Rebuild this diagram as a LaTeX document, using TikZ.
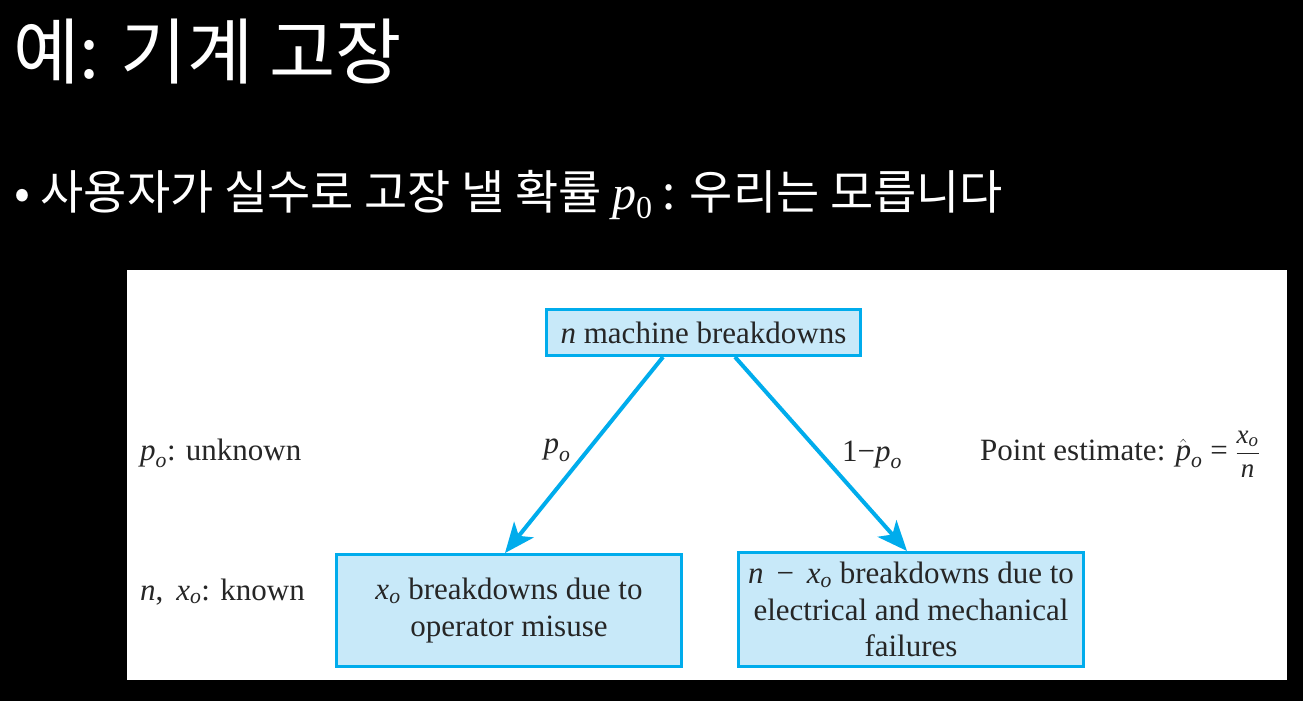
\documentclass[tikz,border=0pt]{standalone}
\usepackage{amsmath}
\usepackage{fontspec}
\setmainfont{Liberation Serif}
\newfontfamily\cjk{Noto Sans CJK KR}
\usetikzlibrary{arrows.meta}

\definecolor{flowcyan}{RGB}{0,172,236}
\definecolor{boxfill}{RGB}{200,233,249}

% italic variables with subscript o
\newcommand{\po}{$\textit{p}_{\textit{o}}$}
\newcommand{\xo}{$\textit{x}_{\textit{o}}$}

\tikzset{
  stagebox/.style={draw=flowcyan, line width=3pt, fill=boxfill, inner sep=0pt,
    align=center, font=\fontsize{31}{36.5}\selectfont, text=black!85},
  branch/.style={draw=flowcyan, line width=4pt,
    -{Stealth[length=30pt,width=25pt,inset=8pt]}},
  note/.style={font=\fontsize{31}{36}\selectfont, text=black!85, inner sep=0pt},
  slidetext/.style={text=white, inner sep=0pt},
}

\begin{document}
\begin{tikzpicture}[x=1pt,y=-1pt]
  % slide background and figure panel
  \fill[black] (0,0) rectangle (1303,701);
  \useasboundingbox (0,0) rectangle (1303,701);
  \fill[white] (127,270) rectangle (1287,680);

  % slide heading and bullet
  \node[slidetext, anchor=base west, font=\cjk\fontsize{72}{80}\selectfont] (title) at (13,78) {예: 기계 고장};
  \node[slidetext, anchor=base west, font=\cjk\fontsize{47}{52}\selectfont] (bullet) at (14,209)
    {• 사용자가 실수로 고장 낼 확률 {\rmfamily\fontsize{48}{52}\selectfont\textit{p}\raisebox{-9pt}{\fontsize{32}{34}\selectfont 0}} : 우리는 모릅니다};

  % boxes
  \node[stagebox, minimum width=314pt, minimum height=46pt] (top) at (703.5,332.5)
    {\textit{n} machine breakdowns};
  \node[stagebox, minimum width=345pt, minimum height=112pt] (left) at (509,610.5)
    {\xo{} breakdowns due to\\operator misuse};
  \node[stagebox, minimum width=345pt, minimum height=114pt] (right) at (911,609.5)
    {\textit{n} \,−\, \xo{} breakdowns due to\\electrical and mechanical\\failures};

  % branches
  \draw[branch] ([xshift=-40.5pt]top.south) -- ([xshift=-4pt]left.north);
  \draw[branch] ([xshift=31.5pt]top.south) -- ([xshift=-4pt]right.north);

  % branch probabilities
  \node[note] (pl) at (557,450) {\po};
  \node[note] (pr) at (872,455) {1−\po};

  % side notes
  \node[note, anchor=base west] (unk) at (140,460) {\po: unknown};
  \node[note, anchor=base west] (kno) at (140,600) {\textit{n},\, \xo: known};
  \node[note, anchor=base west] (est) at (980,460)
    {Point estimate: $\hat{\textit{p}}_{\textit{o}}$ = {\fontsize{27}{30}\selectfont$\dfrac{\textit{x}_{\textit{o}}}{\textit{n}}$}};
\end{tikzpicture}
\end{document}
